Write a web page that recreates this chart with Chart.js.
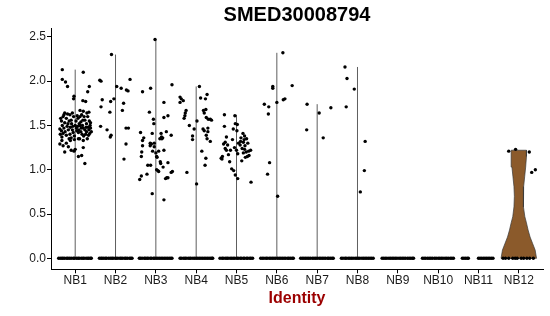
<!DOCTYPE html>
<html><head><meta charset="utf-8">
<script src="https://cdn.jsdelivr.net/npm/chart.js@4.4.1/dist/chart.umd.min.js"></script>
<style>html,body{margin:0;padding:0;background:#fff;}canvas{display:block;}</style>
</head><body>
<canvas id="c" width="550" height="316"></canvas>
<script>
const chartTitle = 'SMED30008794';
const xTitle = 'Identity';
const categories = ['NB1','NB2','NB3','NB4','NB5','NB6','NB7','NB8','NB9','NB10','NB11','NB12'];
const yTicks = [0, 0.5, 1, 1.5, 2, 2.5];

// non-zero expression values per identity: [jitter offset, value]
const nb1Points = [[-0.32,2.13],[0.2,2.10],[-0.32,2.02],[-0.24,1.99],[-0.19,1.94],[0.35,1.94],[0.31,1.88],[-0.03,1.83],[-0.04,1.80],[0.26,1.77],[0.19,1.78],[0.2,1.66],[0.12,1.67],[0.34,1.65],
 [-0.26,1.64],[-0.19,1.63],[-0.13,1.62],[-0.07,1.64],[-0.30,1.60],[-0.22,1.58],[-0.34,1.55],[-0.15,1.55],[-0.26,1.53],[-0.09,1.52],[-0.32,1.50],[-0.2,1.49],[-0.12,1.48],[-0.28,1.47],[-0.34,1.44],[-0.17,1.45],[-0.07,1.45],[-0.3,1.41],[-0.22,1.39],[-0.13,1.40],[0.0,1.50],[0.03,1.47],[0.06,1.49],[0.1,1.52],[0.14,1.54],[0.18,1.50],[0.24,1.56],[0.28,1.52],[0.32,1.48],[0.37,1.50],[0.2,1.47],[0.24,1.45],[0.14,1.43],[0.28,1.43],[0.34,1.45],[0.17,1.40],[0.21,1.38],[0.26,1.40],[0.07,1.58],[0.05,1.61],[0.12,1.60],[0.29,1.64],[0.31,1.60],[0.38,1.47],[0.40,1.43],[0.36,1.41],[-0.38,1.46],[-0.37,1.40],[-0.1,1.56],[0.02,1.55],[-0.05,1.42],[0.09,1.45],[-0.02,1.38],[0.11,1.35],[0.3,1.35],
 [-0.36,1.58],[-0.28,1.62],[-0.04,1.60],[0.16,1.62],[0.22,1.60],[0.35,1.55],[-0.18,1.52],[-0.06,1.49],[0.08,1.42],[0.33,1.39],[-0.25,1.43],[-0.10,1.36],[0.15,1.47],[0.27,1.48],[-0.33,1.37],[0.04,1.44],[0.19,1.56],[-0.15,1.35],[0.38,1.53],[0.12,1.50],
 [-0.33,1.33],[-0.22,1.30],[-0.12,1.33],[-0.02,1.34],[0.08,1.35],[0.2,1.33],[-0.3,1.27],[-0.17,1.26],[-0.1,1.22],[0.0,1.23],[0.2,1.25],[-0.26,1.20],[0.08,1.15],[0.16,1.16],[0.24,1.07],[-0.03,1.21],[-0.38,1.29]];
const nb2Points = [[-0.1,2.30],[-0.39,2.01],[-0.36,2.00],[0.36,2.02],[0.03,1.94],[0.14,1.92],[0.27,1.90],[0.31,1.89],[-0.04,1.80],[-0.33,1.79],[-0.12,1.77],[0.2,1.75],[-0.36,1.71],[0.17,1.67],[-0.14,1.65],[-0.37,1.49],[-0.21,1.45],[-0.11,1.39],[-0.13,1.37],[0.26,1.47],[0.32,1.47],[0.26,1.29],[0.21,1.12]];
const nb3Points = [[-0.02,2.47],[-0.33,1.88],[-0.13,1.92],[0.40,1.96],[0.20,1.76],[-0.16,1.65],[0.30,1.61],[0.20,1.59],[-0.06,1.57],[-0.05,1.52],[-0.38,1.42],[-0.09,1.41],[0.13,1.41],[0.26,1.43],[0.38,1.39],[-0.30,1.36],[-0.33,1.33],[0.15,1.35],[0.10,1.35],[-0.13,1.29],[-0.11,1.29],[-0.04,1.26],[-0.14,1.27],[0.20,1.22],[0.07,1.21],[-0.33,1.27],[-0.35,1.20],[-0.36,1.15],[-0.08,1.21],[0.0,1.19],[0.02,1.15],[0.03,1.14],[-0.2,1.05],[-0.13,1.05],[0.12,1.07],[0.18,1.03],[0.30,1.08],[0.11,1.09],[0.02,1.0],[0.07,0.98],[0.05,0.99],[0.41,0.98],[0.38,0.97],[0.27,0.91],[0.30,0.91],[0.24,0.90],[-0.22,0.95],[-0.36,0.93],[-0.40,0.89],[-0.09,0.73],[0.20,0.66],[0.14,1.37],[0.17,1.36],[-0.14,1.30],[-0.04,1.30]];
const nb4Points = [[0.08,1.94],[0.27,1.85],[-0.40,1.82],[-0.37,1.80],[-0.32,1.78],[-0.40,1.76],[0.11,1.81],[0.23,1.80],[-0.25,1.67],[-0.27,1.64],[-0.28,1.61],[-0.30,1.58],[0.18,1.67],[0.24,1.68],[0.20,1.64],[0.30,1.57],[0.35,1.57],[0.38,1.56],[0.25,1.59],[0.02,1.55],[-0.17,1.50],[-0.05,1.46],[-0.09,1.38],[-0.09,1.34],[0.17,1.46],[0.20,1.44],[0.25,1.39],[0.29,1.47],[0.29,1.43],[0.35,1.32],[0.27,1.35],[0.14,1.21],[0.24,1.13],[0.22,1.05],[-0.23,0.97],[0.01,0.84]];
const nb5Points = [[-0.30,1.62],[-0.04,1.61],[-0.30,1.49],[-0.03,1.52],[0.02,1.51],[-0.08,1.46],[0.01,1.44],[-0.25,1.37],[-0.28,1.31],[-0.32,1.29],[-0.22,1.28],[-0.28,1.24],[-0.25,1.22],[-0.35,1.15],[-0.38,1.13],[-0.36,1.12],[-0.17,1.09],[-0.12,1.01],[-0.07,0.99],[-0.03,0.94],[0.03,0.90],[0.36,0.86],[-0.2,1.17],[0.16,1.41],[0.20,1.38],[0.11,1.36],[0.25,1.35],[0.19,1.34],[0.10,1.32],[0.17,1.31],[0.28,1.30],[0.09,1.28],[0.21,1.27],[0.14,1.24],[0.20,1.23],[0.30,1.21],[0.24,1.20],[0.17,1.19],[0.35,1.22],[0.00,1.22],[0.03,1.18],[-0.05,1.25],[0.05,1.30],[0.31,1.16],[0.27,1.15],[0.22,1.14],[0.13,1.10],[-0.1,1.34],[-0.15,1.22]];
const nb6Points = [[0.15,2.32],[-0.10,1.94],[-0.10,1.92],[0.38,1.95],[0.0,1.76],[0.16,1.79],[0.20,1.80],[-0.31,1.74],[-0.20,1.71],[-0.21,1.63],[-0.23,0.95],[-0.18,1.08],[0.02,0.70]];
const nb7Points = [[-0.25,1.74],[0.05,1.64],[0.34,1.70],[-0.26,1.45],[0.15,1.36]];
const nb8Points = [[-0.31,2.16],[-0.26,2.03],[-0.08,1.91],[-0.28,1.71],[0.19,1.32],[0.17,0.99],[0.07,0.75]];
const nb9Points = [];
const nb10Points = [];
const nb11Points = [];
const nb12Points = [[-0.25,1.21],[-0.08,1.23],[0.26,1.20],[0.32,0.97],[0.41,1.0]];

// jitter offsets of the cells with zero expression
const nb1Zero = [-0.41,-0.37,-0.33,-0.30,-0.26,-0.21,-0.18,-0.14,-0.10,-0.05,-0.02,0.03,0.07,0.10,0.15,0.19,0.22,0.27,0.31,0.34,0.38,0.40];
const nb2Zero = [-0.40,-0.36,-0.33,-0.29,-0.25,-0.22,-0.17,-0.13,-0.09,-0.06,-0.01,0.02,0.06,0.11,0.14,0.18,0.23,0.26,0.30,0.35,0.38,0.41];
const nb3Zero = [-0.41,-0.38,-0.34,-0.29,-0.26,-0.22,-0.19,-0.14,-0.11,-0.06,-0.03,0.01,0.05,0.09,0.13,0.17,0.21,0.25,0.29,0.33,0.37,0.40];
const nb4Zero = [-0.40,-0.37,-0.32,-0.28,-0.25,-0.20,-0.16,-0.13,-0.08,-0.04,0.00,0.04,0.08,0.12,0.16,0.20,0.24,0.28,0.32,0.36,0.39,0.41];
const nb5Zero = [-0.41,-0.36,-0.33,-0.28,-0.24,-0.21,-0.16,-0.12,-0.08,-0.04,0.01,0.04,0.09,0.12,0.17,0.20,0.25,0.28,0.33,0.36,0.40];
const nb6Zero = [-0.40,-0.36,-0.32,-0.27,-0.24,-0.19,-0.15,-0.11,-0.07,-0.03,0.02,0.06,0.10,0.14,0.18,0.22,0.27,0.30,0.34,0.38,0.41];
const nb7Zero = [-0.41,-0.37,-0.33,-0.29,-0.25,-0.21,-0.17,-0.12,-0.08,-0.04,0.00,0.05,0.09,0.13,0.17,0.21,0.26,0.29,0.33,0.37,0.40];
const nb8Zero = [-0.40,-0.36,-0.31,-0.28,-0.23,-0.19,-0.15,-0.11,-0.06,-0.02,0.02,0.06,0.11,0.15,0.19,0.23,0.27,0.31,0.35,0.39];
const nb9Zero = [-0.39,-0.35,-0.31,-0.27,-0.22,-0.18,-0.14,-0.10,-0.06,-0.02,0.03,0.07,0.11,0.15,0.19,0.24,0.28,0.32,0.36,0.39];
const nb10Zero = [-0.39,-0.35,-0.31,-0.26,-0.22,-0.18,-0.14,-0.09,-0.05,0.00,0.04,0.08,0.12,0.17,0.21,0.25,0.30,0.34,0.38];
const nb11Zero = [-0.40,-0.36,-0.32,-0.28,-0.25,0.00,0.04,0.08,0.12,0.16,0.20,0.24,0.28,0.32,0.36];
const nb12Zero = [-0.39,-0.33,-0.25,-0.15,-0.09,-0.04,0.06,0.12,0.20,0.27,0.36];

// NB12 violin outline: density half-width (in category units) at each expression level
const violinLevels = [0, 0.094, 0.17, 0.24, 0.32, 0.40, 0.47, 0.58, 0.70, 0.81, 0.92, 1.03, 1.15, 1.22];
const violinHalfWidth = [0.44, 0.405, 0.34, 0.28, 0.23, 0.19, 0.15, 0.12, 0.11, 0.12, 0.145, 0.17, 0.19, 0.19];
const violinGroup = 12;
const thinViolinGroups = [1, 2, 3, 4, 5, 6, 7, 8];

const groupPoints = [nb1Points,nb2Points,nb3Points,nb4Points,nb5Points,nb6Points,nb7Points,nb8Points,nb9Points,nb10Points,nb11Points,nb12Points];
const groupZeros = [nb1Zero,nb2Zero,nb3Zero,nb4Zero,nb5Zero,nb6Zero,nb7Zero,nb8Zero,nb9Zero,nb10Zero,nb11Zero,nb12Zero];

const cellData = [];
groupZeros.forEach((arr, i) => arr.forEach(dx => cellData.push({x: i + 1 + dx, y: 0})));
groupPoints.forEach((arr, i) => arr.forEach(([dx, v]) => cellData.push({x: i + 1 + dx, y: v})));

const datasets = [{
  type: 'scatter', data: cellData, order: 0,
  pointRadius: 1.7, pointHoverRadius: 1.7, pointBackgroundColor: '#000', pointBorderWidth: 0, showLine: false
}];

thinViolinGroups.forEach(g => {
  const top = Math.max(...groupPoints[g - 1].map(p => p[1]));
  datasets.push({
    type: 'scatter', order: 2, showLine: true, fill: false,
    data: [{x: g, y: 0}, {x: g, y: top}],
    borderColor: 'rgba(40,40,40,0.75)', borderWidth: 1, pointRadius: 0
  });
});

const violinPath = [];
violinLevels.forEach((lv, k) => violinPath.push({x: violinGroup - violinHalfWidth[k], y: lv}));
for (let k = violinLevels.length - 1; k >= 0; k--) violinPath.push({x: violinGroup + violinHalfWidth[k], y: violinLevels[k]});
violinPath.push(violinPath[0]);
datasets.push({
  type: 'scatter', order: 1, showLine: true, fill: 'shape', tension: 0,
  data: violinPath, backgroundColor: '#8B5A2B', borderColor: '#3a3a3a', borderWidth: 0.7, pointRadius: 0
});

new Chart(document.getElementById('c'), {
  type: 'scatter',
  data: { datasets },
  options: {
    responsive: false, animation: false, devicePixelRatio: 1,
    layout: { padding: { left: 0, right: 7, top: 0, bottom: 0 } },
    plugins: { legend: { display: false }, tooltip: { enabled: false }, title: { display: false } },
    scales: {
      top: {
        type: 'linear', position: 'top', min: 0.4, max: 12.6,
        afterFit: s => { s.height = 28; },
        ticks: { display: false },
        grid: { display: false, drawTicks: false },
        border: { display: false },
        title: { display: true, text: chartTitle, color: '#000', padding: { top: 3, bottom: 1 },
          font: { family: 'Liberation Sans', size: 20, weight: 'bold' } }
      },
      x: {
        type: 'linear', position: 'bottom', min: 0.4, max: 12.6,
        afterBuildTicks: s => { s.ticks = categories.map((c, i) => ({ value: i + 1 })); },
        afterFit: s => { s.height = 46.7; },
        ticks: { callback: v => categories[Math.round(v) - 1], color: '#1a1a1a', padding: 0, maxRotation: 0, autoSkip: false,
          font: { family: 'Liberation Sans', size: 12 } },
        grid: { display: true, drawOnChartArea: false, drawTicks: true, tickLength: 4, color: '#000' },
        border: { display: true, color: '#000', width: 1 },
        title: { display: true, text: xTitle, color: '#9B0000', padding: { top: 0, bottom: 8 },
          font: { family: 'Liberation Sans', size: 16, weight: 'bold' } }
      },
      y: {
        type: 'linear', position: 'left', min: -0.124, max: 2.6,
        afterBuildTicks: s => { s.ticks = yTicks.map(v => ({ value: v })); },
        afterFit: s => { s.width = 51; },
        ticks: { callback: v => Number(v).toFixed(1), color: '#1a1a1a', padding: 1,
          font: { family: 'Liberation Sans', size: 12 } },
        grid: { display: true, drawOnChartArea: false, drawTicks: true, tickLength: 4, color: '#000' },
        border: { display: true, color: '#000', width: 1 }
      }
    }
  }
});
</script>
</body></html>
